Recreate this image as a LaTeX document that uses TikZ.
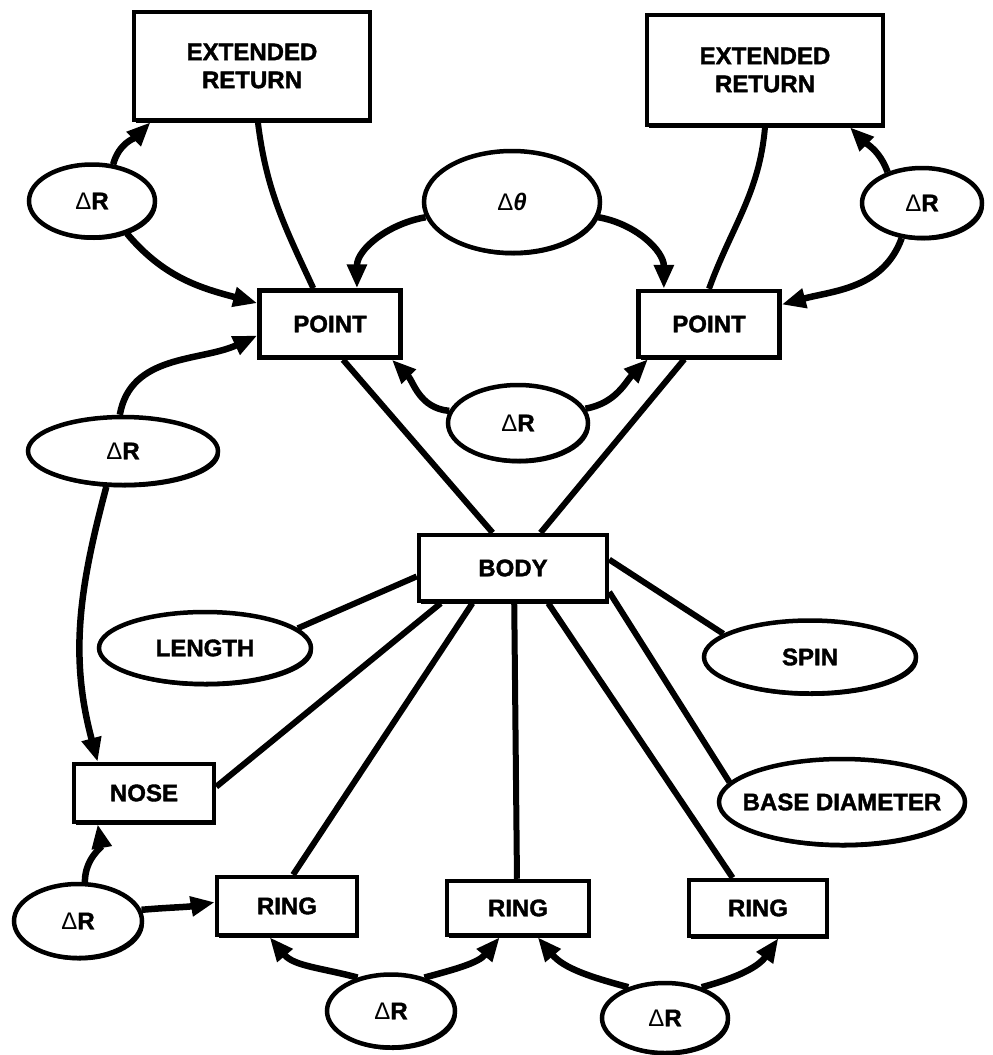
\documentclass[tikz,border=0pt]{standalone}
\usepackage{fontspec}
\setmainfont{Liberation Sans}[BoldFeatures={FakeBold=1.6}]
\usetikzlibrary{shapes.geometric,arrows.meta,shadows}
\newcommand\zw[1]{\makebox[0pt]{#1}}
\newcommand\dR{{\mdseries Δ}R}
\begin{document}
\begin{tikzpicture}[x=1pt,y=1pt,
  lbl/.style={font=\fontsize{24}{28}\selectfont\bfseries, inner sep=0pt, align=center},
  shade/.style={drop shadow={shadow xshift=2pt, shadow yshift=-2.5pt, fill=black, opacity=1}},
  box/.style={lbl, draw, line width=4.5pt, rectangle, fill=white, shade},
  oval/.style={lbl, draw, line width=4.5pt, ellipse, fill=white, shade},
  link/.style={line width=6pt},
  arr/.style={line width=6.5pt, -{Triangle[length=24pt,width=19pt]}},
]
\useasboundingbox (0,0) rectangle (993,-1055);
% boxes
\node[box, minimum width=236, minimum height=108] (extL) at (252,-66) {EXTENDED\\RETURN};
\node[box, minimum width=236, minimum height=110] (extR) at (765,-70) {EXTENDED\\RETURN};
\node[box, minimum width=141, minimum height=67] (pointL) at (330,-324) {POINT};
\node[box, minimum width=141, minimum height=66] (pointR) at (709,-324) {POINT};
\node[box, minimum width=188, minimum height=66] (body) at (513,-568) {BODY};
\node[box, minimum width=140, minimum height=58] (nose) at (144,-793) {NOSE};
\node[box, minimum width=140, minimum height=58] (ring1) at (287,-906) {RING};
\node[box, minimum width=142, minimum height=54] (ring2) at (518,-908) {RING};
\node[box, minimum width=138, minimum height=56] (ring3) at (758,-908) {RING};
% ellipses
\node[oval, minimum width=126, minimum height=73] (dRtl) at (92,-201) {\zw{\dR}};
\node[oval, minimum width=176, minimum height=102] (dtheta) at (512,-202) {\zw{{\mdseries Δ}{\itshape θ}}};
\node[oval, minimum width=120, minimum height=70] (dRtr) at (922,-203) {\zw{\dR}};
\node[oval, minimum width=140, minimum height=76] (dRmid) at (518,-423) {\zw{\dR}};
\node[oval, minimum width=190, minimum height=68] (dRl) at (123,-451) {\zw{\dR}};
\node[oval, minimum width=212, minimum height=72] (length) at (205,-648) {\zw{LENGTH}};
\node[oval, minimum width=212, minimum height=73] (spin) at (810,-657) {\zw{SPIN}};
\node[oval, minimum width=246, minimum height=86] (basedia) at (842,-802) {\zw{BASE DIAMETER}};
\node[oval, minimum width=128, minimum height=74] (dRbl) at (78,-921) {\zw{\dR}};
\node[oval, minimum width=128, minimum height=73] (dRb1) at (391,-1011) {\zw{\dR}};
\node[oval, minimum width=126, minimum height=70] (dRb2) at (665,-1018) {\zw{\dR}};
% plain links
\draw[link] (extL.-84) to[out=-83,in=115] (pointL.115);
\draw[link] (extR.-90) to[out=-95,in=70] (pointR.north);
\draw[link] (pointL.-70) -- (body.120);
\draw[link] (pointR.-125) -- (body.52);
\draw[link] (length.12) -- (body.185);
\draw[link] (body.5) -- (spin.165);
\draw[link] (body.-154) -- (nose.5);
\draw[link] (body.-139) -- (ring1.79);
\draw[link] (body.-88) -- (ring2.92);
\draw[link] (body.-45) -- (ring3.130);
\draw[link] (body.-14) -- (basedia.170);
% arrows
\draw[arr] (dRtl.60) to[out=75,in=225] (extL.-151);
\draw[arr] (dRtl.-43) to[out=-50,in=165] (pointL.164);
\draw[arr] (dtheta.190) to[out=190,in=90] (pointL.53);
\draw[arr] (dtheta.-10) to[out=-10,in=90] (pointR.142);
\draw[arr] (dRtr.138) to[out=110,in=-45] (extR.-34);
\draw[arr] (dRtr.-120) to[out=-110,in=15] (pointR.15);
\draw[arr] (dRmid.170) to[out=175,in=-45] (pointL.-30);
\draw[arr] (dRmid.12) to[out=10,in=-135] (pointR.-150);
\draw[arr] (dRl.95) to[out=80,in=205] (pointL.189);
\draw[arr] (dRl.-115) to[out=-105,in=105] (nose.146);
\draw[arr] (dRbl.80) to[out=90,in=-80] (nose.-146);
\draw[arr] (dRbl.10) to[out=5,in=190] (ring1.177);
\draw[arr] (dRb1.135) to[out=165,in=-50] (ring1.-119);
\draw[arr] (dRb1.45) to[out=15,in=-130] (ring2.-122);
\draw[arr] (dRb2.140) to[out=165,in=-50] (ring2.-56);
\draw[arr] (dRb2.40) to[out=15,in=-125] (ring3.-56);
\end{tikzpicture}
\end{document}
